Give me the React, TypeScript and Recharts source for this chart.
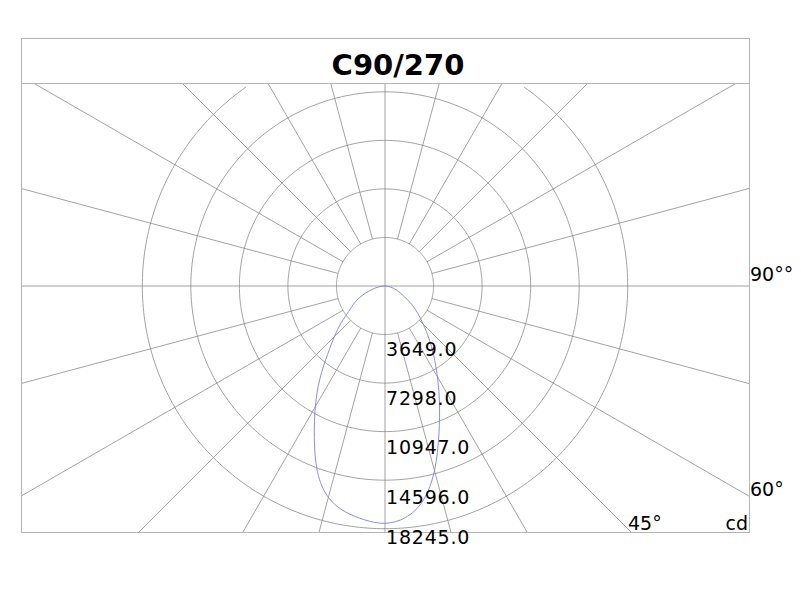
import React from 'react';
import { ScatterChart, Scatter, XAxis, YAxis } from 'recharts';

// ---- data ----
const angles = [0, 5, 10, 15, 20, 25, 30, 35, 40, 45, 50, 55, 60, 65, 70, 75, 80, 85, 90];
const c90 = [17840, 17480, 16400, 14370, 11850, 9685, 7880, 6380, 5125, 4060, 3230, 2510, 1790, 1300, 950, 650, 400, 180, 0];
const c270 = [17840, 17645, 17230, 16450, 14850, 12570, 10470, 8540, 6720, 5380, 4290, 3330, 2740, 2150, 1560, 1000, 600, 280, 0];
const ringValues = [3649, 7298, 10947, 14596, 18245];
const ringLabels = ['3649.0', '7298.0', '10947.0', '14596.0', '18245.0'];
const spokeAngles = [15, 30, 45, 60, 75, 105, 120, 135, 150, 165];
const title = 'C90/270';
const angleLabels = ['90°°', '60°', '45°'];
const unitLabel = 'cd';

// ---- geometry helpers ----
const CD_PER_PX = 18245 / 242.7;
const X_DOMAIN: [number, number] = [-364 * CD_PER_PX, 364 * CD_PER_PX];
const Y_DOMAIN: [number, number] = [-246 * CD_PER_PX, 203 * CD_PER_PX];
const rad = (d: number) => (d * Math.PI) / 180;

const curve = [
  ...angles
    .map((a, i) => ({ x: c90[i] * Math.sin(rad(a)), y: -c90[i] * Math.cos(rad(a)) }))
    .reverse(),
  ...angles
    .slice(1)
    .map((a, i) => ({ x: -c270[i + 1] * Math.sin(rad(a)), y: -c270[i + 1] * Math.cos(rad(a)) })),
];

const ring = (r: number, from = 0, to = 360) => {
  const pts: { x: number; y: number }[] = [];
  for (let p = from; p <= to; p += 1) pts.push({ x: r * Math.sin(rad(p)), y: r * Math.cos(rad(p)) });
  return pts;
};

const rings = ringValues.map((r, i) => (i === ringValues.length - 1 ? ring(r, 35, 325) : ring(r)));

const BIG = 80000;
const spokes: { x: number; y: number }[][] = [];
spokeAngles.forEach((a) => {
  [1, -1].forEach((s) => {
    spokes.push([
      { x: s * ringValues[0] * Math.sin(rad(a)), y: -ringValues[0] * Math.cos(rad(a)) },
      { x: s * BIG * Math.sin(rad(a)), y: -BIG * Math.cos(rad(a)) },
    ]);
  });
});
const axesLines = [
  [{ x: -BIG, y: 0 }, { x: BIG, y: 0 }],
  [{ x: 0, y: -BIG }, { x: 0, y: BIG }],
];

const GRID = '#8a8a8a';
const noShape = () => <g />;

const labelBaselines = [355.5, 404.6, 454.2, 503.8, 543.5];

export default function App() {
  return (
    <div style={{ position: 'relative', width: 785, height: 585 }}>
      <ScatterChart width={785} height={585} margin={{ top: 75, right: 44, bottom: 61, left: 13 }}>
        <XAxis type="number" dataKey="x" domain={X_DOMAIN} allowDataOverflow hide />
        <YAxis type="number" dataKey="y" domain={Y_DOMAIN} allowDataOverflow hide />
        {axesLines.map((d, i) => (
          <Scatter key={'ax' + i} data={d} fill={GRID} line={{ stroke: GRID, strokeWidth: 0.8 }} shape={noShape} isAnimationActive={false} />
        ))}
        {spokes.map((d, i) => (
          <Scatter key={'sp' + i} data={d} fill={GRID} line={{ stroke: GRID, strokeWidth: 0.8 }} shape={noShape} isAnimationActive={false} />
        ))}
        {rings.map((d, i) => (
          <Scatter key={'rg' + i} data={d} fill={GRID} line={{ stroke: GRID, strokeWidth: 0.8 }} shape={noShape} isAnimationActive={false} />
        ))}
        <Scatter
          data={curve}
          fill="#7f7fe0"
          line={{ stroke: '#7f7fe0', strokeWidth: 0.9 }}
          lineJointType="natural"
          shape={noShape}
          isAnimationActive={false}
        />
      </ScatterChart>
      <svg
        width={801}
        height={601}
        style={{ position: 'absolute', left: -8, top: -8, pointerEvents: 'none' }}
        fontFamily="DejaVu Sans"
      >
        <rect x={21.5} y={38.5} width={728} height={494} fill="none" stroke="#b4b4b4" strokeWidth={1} />
        <line x1={21.5} y1={83.5} x2={749.5} y2={83.5} stroke="#b4b4b4" strokeWidth={1} />
        <text x={398} y={75} textAnchor="middle" fontSize={29} fontWeight="bold" fill="#000">
          {title}
        </text>
        {ringLabels.map((t, i) => (
          <text key={t} x={386} y={labelBaselines[i]} fontSize={19} letterSpacing={0.8} fill="#000">
            {t}
          </text>
        ))}
        <text x={750} y={281} fontSize={19} fill="#000">{angleLabels[0]}</text>
        <text x={750} y={496} fontSize={19} fill="#000">{angleLabels[1]}</text>
        <text x={628} y={530} fontSize={19} fill="#000">{angleLabels[2]}</text>
        <text x={748} y={530} fontSize={19} textAnchor="end" fill="#000">{unitLabel}</text>
      </svg>
    </div>
  );
}
